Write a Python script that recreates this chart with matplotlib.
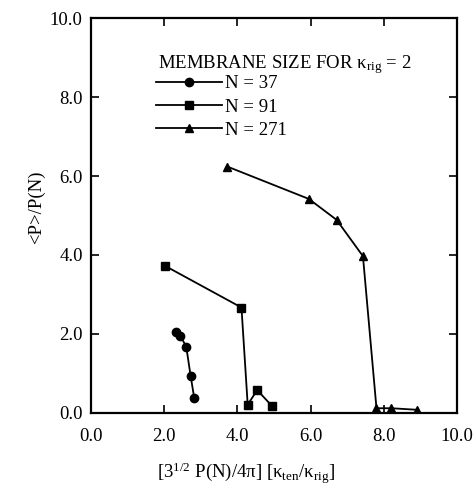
import matplotlib
matplotlib.use("Agg")
import matplotlib.pyplot as plt

# N = 37
x37 = [2.31, 2.44, 2.60, 2.72, 2.82]
y37 = [2.06, 1.95, 1.68, 0.94, 0.37]

# N = 91
x91 = [2.03, 4.11, 4.28, 4.54, 4.94]
y91 = [3.72, 2.67, 0.21, 0.58, 0.18]

# N = 271
x271 = [3.72, 5.95, 6.71, 7.43, 7.80, 8.21, 8.92]
y271 = [6.24, 5.42, 4.89, 3.97, 0.12, 0.12, 0.08]

ticks = [0, 2, 4, 6, 8, 10]
tick_labels = ["0.0", "2.0", "4.0", "6.0", "8.0", "10.0"]

plt.rcParams["font.family"] = "Liberation Serif"
plt.rcParams["mathtext.fontset"] = "custom"
plt.rcParams["mathtext.rm"] = "Liberation Serif"
plt.rcParams["mathtext.default"] = "regular"

FS = 13.5

fig = plt.figure(figsize=(4.77, 4.87), dpi=100)
ax = fig.add_axes([0.191, 0.152, 0.767, 0.811])

ax.plot(x37, y37, color="black", lw=1.3, marker="o", ms=6, label="N = 37")
ax.plot(x91, y91, color="black", lw=1.3, marker="s", ms=6, label="N = 91")
ax.plot(x271, y271, color="black", lw=1.3, marker="^", ms=6, label="N = 271")

ax.set_xlim(0, 10)
ax.set_ylim(0, 10)
ax.set_xticks(ticks)
ax.set_xticklabels(tick_labels)
ax.set_yticks(ticks)
ax.set_yticklabels(tick_labels)
ax.tick_params(direction="in", length=6, width=1.2, top=True, right=True,
               labelsize=FS)
ax.tick_params(axis="x", pad=11)
ax.tick_params(axis="y", pad=6)
for s in ax.spines.values():
    s.set_linewidth(1.6)

ax.set_xlabel("[3$^{1/2}$ P(N)/4\u03c0] [\u03ba$_{ten}$/\u03ba$_{rig}$]", fontsize=FS)
ax.xaxis.set_label_coords(0.423, -0.12)
ax.set_ylabel("<P>/P(N)", fontsize=FS)
ax.yaxis.set_label_coords(-0.126, 0.52)

# legend title as its own text so it sits close to the entries
ax.text(0.183, 0.873, "MEMBRANE SIZE FOR \u03ba$_{rig}$ = 2", transform=ax.transAxes,
        fontsize=FS, ha="left", va="baseline")
ax.legend(loc="upper left", bbox_to_anchor=(0.178, 0.855), frameon=False,
          handlelength=3.5, fontsize=FS, labelspacing=0.32,
          handletextpad=0.15, borderaxespad=0, borderpad=0)

fig.savefig("out.png", dpi=100)
